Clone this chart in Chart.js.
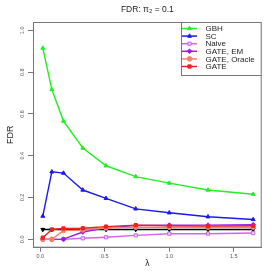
<!DOCTYPE html>
<html><head><meta charset="utf-8">
<script src="https://cdn.jsdelivr.net/npm/chart.js@4.4.0/dist/chart.umd.min.js"></script>
<style>html,body{margin:0;padding:0;background:#fff;overflow:hidden}</style>
</head><body>
<canvas id="c" width="273" height="273"></canvas>
<script>
const titleText = 'FDR: \u03c0\u2082 = 0.1';
const xLabel = '\u03bb';
const yLabel = 'FDR';
const lambda = [0.02, 0.09, 0.18, 0.33, 0.51, 0.74, 1.0, 1.3, 1.65];
const gbh = [0.915, 0.717, 0.566, 0.437, 0.352, 0.300, 0.269, 0.236, 0.216];
const sc = [0.111, 0.323, 0.317, 0.236, 0.196, 0.146, 0.127, 0.108, 0.095];
const naive = [0.0, 0.0, 0.0, 0.005, 0.010, 0.019, 0.027, 0.027, 0.030];
const gateEM = [0.0, 0.0, 0.001, 0.035, 0.055, 0.066, 0.068, 0.068, 0.070];
const gateOracle = [0.0, 0.0, 0.042, 0.045, 0.055, 0.058, 0.058, 0.058, 0.058];
const gate = [0.008, 0.047, 0.052, 0.053, 0.061, 0.068, 0.065, 0.063, 0.065];
const nominal = [0.047, 0.047, 0.047, 0.047, 0.047, 0.047, 0.047, 0.047, 0.047];
const seriesNames = ['GBH', 'SC', 'Naive', 'GATE, EM', 'GATE, Oracle', 'GATE'];
const xTicks = [0, 0.5, 1.0, 1.5];
const yTicks = [0, 0.2, 0.4, 0.6, 0.8, 1.0];

const FONT = "'Liberation Sans', Arial, sans-serif";
const pts = arr => arr.map((v, i) => ({x: lambda[i], y: v}));

function ds(label, data, color, style, fill, order, extra) {
  return Object.assign({
    label, data: pts(data), borderColor: color, backgroundColor: fill,
    pointBorderColor: color, pointBackgroundColor: fill,
    pointStyle: style, pointRadius: 2.3, pointBorderWidth: 1, borderWidth: 1.4,
    tension: 0, order
  }, extra || {});
}

const datasets = [
  ds(seriesNames[0], gbh, '#22ee22', 'triangle', '#22ee22', 6),
  ds(seriesNames[1], sc, '#1a1aee', 'triangle', '#1a1aee', 5),
  ds(seriesNames[2], naive, '#cc66ee', 'rect', '#f0d0ff', 4),
  ds(seriesNames[3], gateEM, '#9a1ae8', 'rectRot', '#9a1ae8', 3),
  ds(seriesNames[4], gateOracle, '#f8806a', 'circle', '#f8806a', 2),
  ds(seriesNames[5], gate, '#ee2020', 'rect', '#ee2020', 1),
  ds('nominal', nominal, '#000000', 'triangle', '#000000', 10, {rotation: 180, hideLegend: true})
];

const decor = {
  id: 'decor',
  afterDraw(chart) {
    const ctx = chart.ctx, a = chart.chartArea;
    ctx.save();
    ctx.strokeStyle = '#777';
    ctx.lineWidth = 1;
    ctx.strokeRect(a.left + 0.5, a.top + 0.5, a.right - a.left - 1, a.bottom - a.top - 1);
    // title
    ctx.fillStyle = '#222';
    ctx.font = '8.5px ' + FONT;
    ctx.textAlign = 'center';
    ctx.textBaseline = 'middle';
    ctx.fillText(titleText, (a.left + a.right) / 2, 10);
    // legend
    const lx = 181, ly = a.top, lw = a.right - 181, lh = 54;
    ctx.fillStyle = '#fff';
    ctx.fillRect(lx, ly, lw, lh);
    ctx.strokeStyle = '#777';
    ctx.strokeRect(lx + 0.5, ly + 0.5, lw - 1, lh - 1);
    const items = chart.data.datasets.filter(d => !d.hideLegend);
    items.forEach((d, i) => {
      const y = ly + 6.5 + i * 7.6;
      ctx.strokeStyle = d.borderColor;
      ctx.lineWidth = 1.5;
      ctx.beginPath(); ctx.moveTo(182, y); ctx.lineTo(197, y); ctx.stroke();
      ctx.fillStyle = d.pointBackgroundColor;
      ctx.strokeStyle = d.pointBorderColor;
      ctx.lineWidth = 1;
      Chart.helpers.drawPoint(ctx, {pointStyle: d.pointStyle, radius: 2.3, rotation: d.rotation || 0, borderWidth: 1}, 189.5, y);
      ctx.fillStyle = '#222';
      ctx.font = '8px ' + FONT;
      ctx.textAlign = 'left';
      ctx.textBaseline = 'middle';
      ctx.fillText(d.label, 205.5, y + 0.5);
    });
    ctx.restore();
  }
};

new Chart(document.getElementById('c'), {
  type: 'line',
  data: {datasets},
  plugins: [decor],
  options: {
    responsive: false, animation: false, devicePixelRatio: 1,
    layout: {padding: {left: 0, top: 22, right: 11.3, bottom: 0}},
    plugins: {legend: {display: false}, title: {display: false}, tooltip: {enabled: false}},
    scales: {
      x: {
        type: 'linear', min: -0.056, max: 1.716,
        afterBuildTicks: s => { s.ticks = xTicks.map(v => ({value: v})); },
        afterFit: s => { s.height = 25.3; },
        grid: {drawOnChartArea: false, drawTicks: true, tickLength: 4, color: '#777'},
        border: {display: true, color: '#777'},
        ticks: {font: {size: 5.5, family: FONT}, color: '#555', padding: 1, maxRotation: 0,
                callback: v => v.toFixed(1)},
        title: {display: true, text: xLabel, font: {size: 8.5, family: FONT}, color: '#222', padding: {top: 4, bottom: 4}}
      },
      y: {
        type: 'linear', min: -0.04, max: 1.04,
        afterBuildTicks: s => { s.ticks = yTicks.map(v => ({value: v})); },
        afterFit: s => { s.width = 33; },
        grid: {drawOnChartArea: false, drawTicks: true, tickLength: 5, color: '#777'},
        border: {display: true, color: '#777'},
        ticks: {font: {size: 5.5, family: FONT}, color: '#555', padding: 2, minRotation: 90, maxRotation: 90,
                crossAlign: 'center', callback: v => v.toFixed(1)},
        title: {display: true, text: yLabel, font: {size: 9, family: FONT}, color: '#222', padding: {top: 5, bottom: 5}}
      }
    }
  }
});
</script>
</body></html>
